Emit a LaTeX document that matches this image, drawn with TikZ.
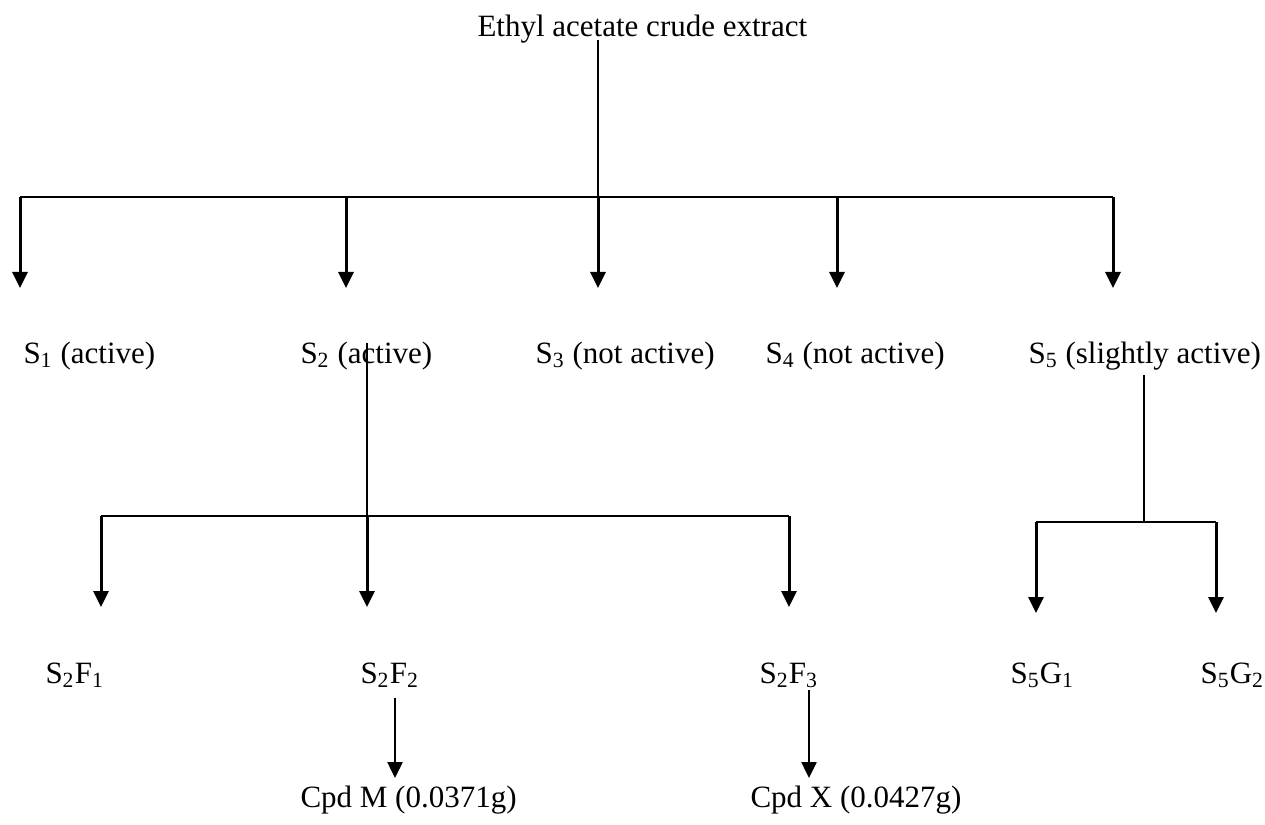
\documentclass[tikz,border=0pt]{standalone}
\usepackage{fontspec}
\setmainfont{Liberation Serif}
\usetikzlibrary{arrows.meta}

\begin{document}
\begin{tikzpicture}[x=0.4pt,y=-0.4pt,
    lbl/.style={inner sep=0pt,anchor=base west,font=\fontsize{12.4}{15}\selectfont},
    bus/.style={line width=0.8pt},
    drop/.style={line width=1.2pt,-{Triangle[width=6pt,length=6.4pt]}}]
  \useasboundingbox (0,0) rectangle (1265,825);
  % extract and first fractions
  \node[lbl] (crude) at (477,37)  {Ethyl acetate crude extract};
  \node[lbl] (s1)    at (23,363)  {S\textsubscript{1} (active)};
  \node[lbl] (s2)    at (300,363) {S\textsubscript{2} (active)};
  \node[lbl] (s3)    at (535,363) {S\textsubscript{3} (not active)};
  \node[lbl] (s4)    at (765,363) {S\textsubscript{4} (not active)};
  \node[lbl] (s5)    at (1028,363) {S\textsubscript{5} (slightly active)};
  % sub-fractions
  \node[lbl] (s2f1)  at (45,683)   {S\textsubscript{2}F\textsubscript{1}};
  \node[lbl] (s2f2)  at (360,683)  {S\textsubscript{2}F\textsubscript{2}};
  \node[lbl] (s2f3)  at (759,683)  {S\textsubscript{2}F\textsubscript{3}};
  \node[lbl] (s5g1)  at (1010,683) {S\textsubscript{5}G\textsubscript{1}};
  \node[lbl] (s5g2)  at (1200,683) {S\textsubscript{5}G\textsubscript{2}};
  % compounds
  \node[lbl] (cpdm)  at (300,807)  {Cpd M (0.0371g)};
  \node[lbl] (cpdx)  at (750,807)  {Cpd X (0.0427g)};
  % junction points
  \coordinate (crudefoot) at (598,40);
  \coordinate (busleft)   at (20,197);
  \coordinate (busright)  at (1113,197);
  \coordinate (s2foot)    at (367,343);
  \coordinate (s2left)    at (101,516);
  \coordinate (s2right)   at (789,516);
  \coordinate (s5foot)    at (1144,375);
  \coordinate (s5mid)     at (1144,522);
  \coordinate (s5left)    at (1036,522);
  \coordinate (s5right)   at (1216,522);
  \coordinate (s2f2foot)  at (395,698);
  \coordinate (s2f3foot)  at (809,690);
  % first split
  \draw[bus] (crudefoot) -- (598,197);
  \draw[bus] (busleft) -- (busright);
  \foreach \x in {20,346,598,837,1113}
    \draw[drop] (\x,197) -- (\x,288);
  % split of S2
  \draw[bus] (s2foot) -- (367,516);
  \draw[bus] (s2left) -- (s2right);
  \foreach \x in {101,367,789}
    \draw[drop] (\x,516) -- (\x,607);
  % split of S5
  \draw[bus] (s5foot) -- (s5mid);
  \draw[bus] (s5left) -- (s5right);
  \draw[drop] (s5left) -- (1036,613);
  \draw[drop] (s5right) -- (1216,613);
  % compounds
  \draw[drop,line width=1pt] (s2f2foot) -- (395,778);
  \draw[drop,line width=1pt] (s2f3foot) -- (809,778);
\end{tikzpicture}
\end{document}
